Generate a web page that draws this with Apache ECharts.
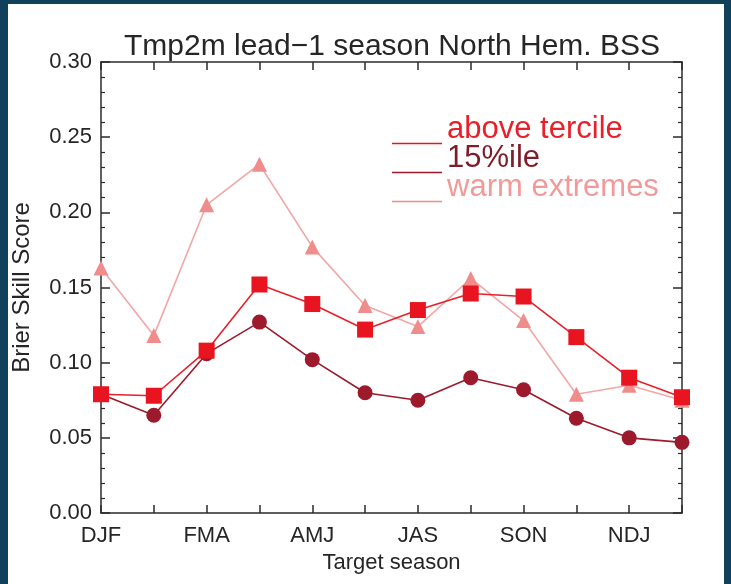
<!DOCTYPE html>
<html>
<head>
<meta charset="utf-8">
<script src="https://cdn.jsdelivr.net/npm/echarts@6/dist/echarts.min.js"></script>
<style>
  html, body { margin: 0; padding: 0; width: 731px; height: 584px; background: #11405a; overflow: hidden; }
  #chart { position: absolute; left: 8px; top: 4px; width: 716px; height: 580px; background: #fff; }
</style>
</head>
<body>
<div id="chart"></div>
<script>
// seasons along the x axis (only every other one is labelled)
var seasons = ['DJF', 'JFM', 'FMA', 'MAM', 'AMJ', 'MJJ', 'JAS', 'ASO', 'SON', 'OND', 'NDJ', 'DJF']
var aboveTercile = [0.079, 0.078, 0.108, 0.152, 0.139, 0.122, 0.135, 0.146, 0.144, 0.117, 0.090, 0.077]
var pct15 = [0.079, 0.065, 0.106, 0.127, 0.102, 0.080, 0.075, 0.090, 0.082, 0.063, 0.050, 0.047]
var warmExtremes = [0.163, 0.118, 0.205, 0.232, 0.177, 0.138, 0.124, 0.156, 0.128, 0.079, 0.085, 0.075]

var FONT = 'Liberation Sans, Arial, Helvetica, sans-serif'
var AXIS = '#2b2b2b'
var TXT = '#262626'

var chart = echarts.init(document.getElementById('chart'), null, { renderer: 'canvas' })

function xAxisBase(pos) {
  return {
    type: 'category',
    position: pos,
    data: seasons,
    boundaryGap: false,
    axisLine: { show: true, onZero: false, lineStyle: { color: AXIS, width: 1.5 } },
    axisTick: { show: true, inside: true, length: 8, interval: 0, lineStyle: { color: AXIS, width: 1.5 } },
    splitLine: { show: false }
  }
}

function yAxisBase(pos) {
  return {
    type: 'value',
    position: pos,
    min: 0,
    max: 0.3,
    interval: 0.05,
    axisLine: { show: true, lineStyle: { color: AXIS, width: 1.5 } },
    axisTick: { show: true, inside: true, length: 9, lineStyle: { color: AXIS, width: 1.5 } },
    minorTick: { show: true, splitNumber: 5, length: 4, lineStyle: { color: AXIS, width: 1.2 } },
    splitLine: { show: false }
  }
}

var xBottom = xAxisBase('bottom')
xBottom.axisLabel = { interval: 1, margin: 12, fontSize: 22, color: TXT, fontFamily: FONT }
xBottom.name = 'Target season'
xBottom.nameLocation = 'middle'
xBottom.nameGap = 39
xBottom.nameTextStyle = { fontSize: 22, color: TXT, fontFamily: FONT }

var xTop = xAxisBase('top')
xTop.axisLabel = { show: false }

var yLeft = yAxisBase('left')
yLeft.axisLabel = {
  margin: 9, fontSize: 22, color: TXT, fontFamily: FONT,
  formatter: function (v) { return v.toFixed(2) }
}
yLeft.name = 'Brier Skill Score'
yLeft.nameLocation = 'middle'
yLeft.nameGap = 67
yLeft.nameTextStyle = { fontSize: 24, color: TXT, fontFamily: FONT }

var yRight = yAxisBase('right')
yRight.axisLabel = { show: false }

chart.setOption({
  backgroundColor: '#fff',
  animation: false,
  title: {
    text: 'Tmp2m lead\u22121 season North Hem. BSS',
    left: 384,
    top: 28,
    textAlign: 'center',
    padding: 0,
    textStyle: { fontSize: 30, fontWeight: 'normal', color: TXT, fontFamily: FONT }
  },
  legend: {
    orient: 'vertical',
    left: 384,
    top: 110,
    padding: 0,
    // thin line drawn at the bottom of each row, under the label
    icon: 'path://M0,0L0.01,0L0,0.01Z M0,28L50,28L50,29.6L0,29.6Z',
    itemWidth: 50,
    itemHeight: 30,
    itemGap: -2,
    itemStyle: { borderWidth: 0 },
    textStyle: { fontSize: 31, fontFamily: FONT },
    data: [
      { name: 'above tercile', textStyle: { color: '#e8202a' } },
      { name: '15%ile', textStyle: { color: '#7e1c2a' } },
      { name: 'warm extremes', textStyle: { color: '#f29a9a' } }
    ]
  },
  grid: { left: 93, right: 42, top: 58, bottom: 71, containLabel: false, outerBoundsMode: 'none' },
  xAxis: [xBottom, xTop],
  yAxis: [yLeft, yRight],
  series: [
    {
      name: 'warm extremes',
      type: 'line',
      data: warmExtremes,
      symbol: 'triangle',
      symbolSize: 15,
      itemStyle: { color: '#f08c8c' },
      lineStyle: { color: '#f3a6a6', width: 1.6 },
      z: 2
    },
    {
      name: '15%ile',
      type: 'line',
      data: pct15,
      symbol: 'circle',
      symbolSize: 15,
      itemStyle: { color: '#9c1a2b' },
      lineStyle: { color: '#9c1a2b', width: 1.6 },
      z: 3
    },
    {
      name: 'above tercile',
      type: 'line',
      data: aboveTercile,
      symbol: 'rect',
      symbolSize: 16,
      itemStyle: { color: '#e8141f' },
      lineStyle: { color: '#e8202a', width: 1.6 },
      z: 4
    }
  ]
})
</script>
</body>
</html>
